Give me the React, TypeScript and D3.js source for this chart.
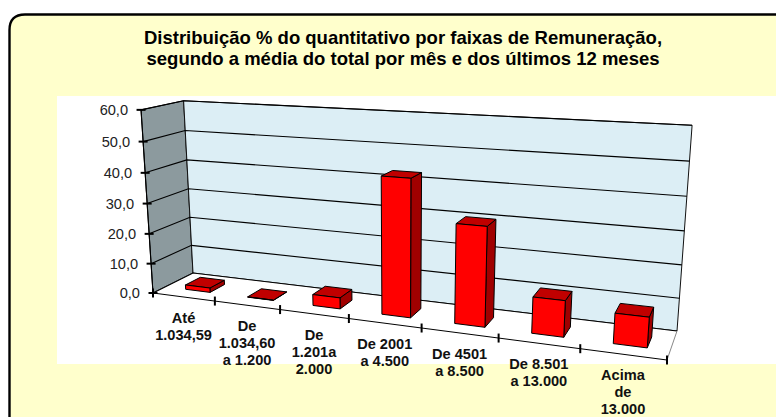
import React from "react";
import * as d3 from "d3";

const title = ["Distribuição % do quantitativo por faixas de Remuneração,", "segundo a média do total por mês e dos últimos 12 meses"];
const categories = [
  ["Até", "1.034,59"],
  ["De", "1.034,60", "a 1.200"],
  ["De", "1.201a", "2.000"],
  ["De 2001", "a 4.500"],
  ["De 4501", "a 8.500"],
  ["De 8.501", "a 13.000"],
  ["Acima", "de", "13.000"],
];
const values = [1.5, 0.1, 3.6, 43, 30.6, 11, 9];
const yTicks = [0, 10, 20, 30, 40, 50, 60];

type P = [number, number];
// Floor corners of the 3-D box: front-left, front-right, back-right, back-left
const floorQuad: P[] = [[153, 293], [667, 360], [677, 331], [193, 273]];
// Vanishing point of the vertical edges, and the perspective strength of the full axis height
const vanish: P = [401, 4091];
const heightK = -0.046;

function homography(q: P[]) {
  const [[x0, y0], [x1, y1], [x2, y2], [x3, y3]] = q;
  const dx1 = x1 - x2, dx2 = x3 - x2, sx = x0 - x1 + x2 - x3;
  const dy1 = y1 - y2, dy2 = y3 - y2, sy = y0 - y1 + y2 - y3;
  const det = dx1 * dy2 - dx2 * dy1;
  const g = (sx * dy2 - dx2 * sy) / det;
  const h = (dx1 * sy - sx * dy1) / det;
  const a = x1 - x0 + g * x1, b = x3 - x0 + h * x3, c = x0;
  const d = y1 - y0 + g * y1, e = y3 - y0 + h * y3, f = y0;
  return (u: number, t: number) => {
    const w = g * u + h * t + 1;
    return { w, p: [(a * u + b * t + c) / w, (d * u + e * t + f) / w] as P };
  };
}
const floorAt = homography(floorQuad);
const yFrac = d3.scaleLinear().domain([0, 60]).range([0, 1]);
const project = (u: number, v: number, depth: number): P => {
  const { w, p } = floorAt(u, depth);
  const s = w / (w + heightK * yFrac(v));
  return [vanish[0] + (p[0] - vanish[0]) * s, vanish[1] + (p[1] - vanish[1]) * s];
};
const band = d3.scaleBand<number>().domain(d3.range(categories.length)).range([0, 1]).paddingInner(0.6).paddingOuter(0.3).align(0.56);
const poly = (pts: P[]) => (d3.line()(pts) as string) + "Z";
const barD0 = 0.3, barD1 = 0.68;
const FONT = "'Liberation Sans', Arial, sans-serif";

export default function App() {
  const bw = band.bandwidth();
  const tickU = d3.range(categories.length + 1).map((i) => i / categories.length);
  return (
    <svg width={776} height={417} style={{ position: "absolute", left: 0, top: 0, fontFamily: FONT }}>
      <rect x={0} y={0} width={776} height={417} fill="#fff" />
      <path d="M9.5 500 V30 Q9.5 14.5 25 14.5 H776 V500 Z" fill="#FFFFCC" stroke="none" />
      <path d="M9.5 500 V30 Q9.5 14.5 25 14.5 H776" fill="none" stroke="#000" strokeWidth={2.4} />
      {title.map((t, i) => (
        <text key={i} x={403} y={44 + i * 21} textAnchor="middle" fontWeight="bold" fontSize={18.5} fill="#000">{t}</text>
      ))}
      <rect x={57} y={96} width={719} height={268} fill="#fff" />
      {/* walls */}
      <path d={poly([project(0, 0, 0), project(0, 0, 1), project(0, 60, 1), project(0, 60, 0)])} fill="#8C9A9E" stroke="#000" strokeWidth={1} />
      <path d={poly([project(0, 0, 1), project(1, 0, 1), project(1, 60, 1), project(0, 60, 1)])} fill="#DCEEF5" stroke="#111" strokeWidth={1} />
      <path d={poly([project(0, 0, 0), project(1, 0, 0), project(1, 0, 1), project(0, 0, 1)])} fill="#fff" stroke="none" />
      {/* gridlines */}
      {yTicks.map((v) => (
        <path key={v} d={d3.line()([project(0, v, 0), project(0, v, 1), project(1, v, 1)]) as string} fill="none" stroke="#000" strokeWidth={1.1} />
      ))}
      {/* floor edges */}
      <path d={d3.line()([project(1, 0, 1), project(1, 0, 0)]) as string} stroke="#888" strokeWidth={1} fill="none" />
      <path d={d3.line()([project(0, 0, 0), project(1, 0, 0)]) as string} stroke="#000" strokeWidth={1} fill="none" />
      <path d={d3.line()([project(0, 0, 0), project(0, 60, 0)]) as string} stroke="#000" strokeWidth={1.1} fill="none" />
      {/* bars */}
      {values.map((v, i) => {
        const u0 = band(i) as number, u1 = u0 + bw;
        return (
          <g key={i} stroke="#000" strokeWidth={1} strokeLinejoin="round">
            <path d={poly([project(u1, 0, barD0), project(u1, 0, barD1), project(u1, v, barD1), project(u1, v, barD0)])} fill="#A00000" />
            <path d={poly([project(u0, v, barD0), project(u1, v, barD0), project(u1, v, barD1), project(u0, v, barD1)])} fill="#C00000" />
            <path d={poly([project(u0, 0, barD0), project(u1, 0, barD0), project(u1, v, barD0), project(u0, v, barD0)])} fill="#FF0000" />
          </g>
        );
      })}
      {/* y axis */}
      {yTicks.map((v) => {
        const [x, y] = project(0, v, 0);
        return (
          <g key={v}>
            <line x1={x - 4.5} x2={x + 4.5} y1={y} y2={y} stroke="#000" strokeWidth={2} />
            <text x={x - 13} y={y + 5} textAnchor="end" fontSize={14.6} fill="#222">{d3.format(".1f")(v).replace(".", ",")}</text>
          </g>
        );
      })}
      {/* x ticks */}
      {tickU.map((u, i) => {
        const [x, y] = project(u, 0, 0);
        return <line key={i} x1={x} x2={x} y1={y - 4.5} y2={y + 4.5} stroke="#000" strokeWidth={2} />;
      })}
      {/* category labels */}
      {categories.map((lines, i) => {
        const [x, y] = project((i + 0.5) / categories.length, 0, 0);
        return (
          <text key={i} textAnchor="middle" fontWeight="bold" fontSize={14.6} fill="#111">
            {lines.map((l, j) => (
              <tspan key={j} x={x} y={y + 26 + j * 17}>{l}</tspan>
            ))}
          </text>
        );
      })}
    </svg>
  );
}
